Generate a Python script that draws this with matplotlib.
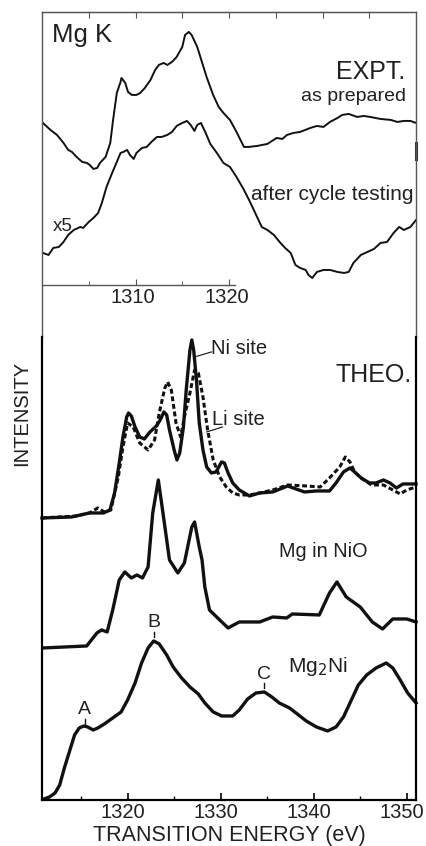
import numpy as np
import matplotlib
matplotlib.use("Agg")
from matplotlib import pyplot as plt
from matplotlib.ticker import FixedLocator, NullFormatter
from matplotlib.transforms import ScaledTranslation

plt.rcParams['font.family'] = ['Liberation Sans', 'DejaVu Sans']

# ---- experiment (top panel), intensity in arb. units ----
e_prep = [1300.1, 1300.9, 1301.6, 1302.3, 1302.8, 1303.2, 1303.7, 1304.3, 1304.8, 1305.1,
          1305.5, 1305.9, 1306.2, 1306.8, 1307.3, 1307.6, 1308.0, 1308.4, 1308.5, 1308.9,
          1309.2, 1309.6, 1310.1, 1310.5, 1311.0, 1311.6, 1312.1, 1312.5, 1313.0, 1313.4,
          1313.9, 1314.4, 1315.0, 1315.3, 1315.7, 1316.0, 1316.6, 1317.1, 1317.6, 1318.3,
          1318.9, 1319.4, 1320.1, 1320.8, 1321.6, 1322.1, 1323.0, 1324.1, 1325.1, 1325.7,
          1326.2, 1326.9, 1327.6, 1328.7, 1329.4, 1330.1, 1330.8, 1331.6, 1332.1, 1332.8,
          1333.7, 1334.4, 1335.1, 1336.2, 1337.3, 1338.0, 1338.7, 1339.4, 1340.0]
i_prep = [162, 155, 150, 142, 135, 133, 128, 123, 122, 120,
          116, 117, 122, 128, 142, 165, 192, 203, 207, 202,
          193, 190, 190, 192, 197, 205, 215, 220, 222, 220,
          223, 228, 238, 250, 253, 250, 238, 223, 208, 190,
          178, 172, 165, 153, 138, 138, 139, 141, 147, 146,
          150, 152, 153, 157, 159, 158, 163, 167, 170, 171,
          168, 169, 168, 166, 165, 163, 164, 164, 162]

e_cyc = [1300.1, 1300.7, 1301.2, 1301.8, 1302.3, 1302.8, 1303.4, 1304.1, 1304.4, 1305.0,
         1305.5, 1306.0, 1306.4, 1306.9, 1307.5, 1308.0, 1308.4, 1308.7, 1309.1, 1309.4,
         1309.8, 1310.1, 1310.7, 1311.2, 1311.7, 1312.3, 1312.8, 1313.4, 1313.9, 1314.4,
         1315.0, 1315.5, 1315.9, 1316.3, 1316.6, 1317.0, 1317.5, 1318.0, 1318.7, 1319.4,
         1320.1, 1320.8, 1321.6, 1322.3, 1323.0, 1323.5, 1324.1, 1324.8, 1325.5, 1326.0,
         1326.6, 1327.1, 1327.6, 1328.2, 1328.5, 1328.9, 1329.4, 1330.1, 1330.8, 1331.6,
         1332.3, 1332.8, 1333.3, 1334.1, 1334.8, 1335.5, 1336.2, 1336.9, 1337.6, 1338.2,
         1338.7, 1339.4, 1340.0]
i_cyc = [32, 30, 37, 38, 43, 50, 55, 58, 57, 63,
         67, 72, 82, 98, 112, 123, 132, 133, 135, 130,
         126, 132, 137, 138, 143, 148, 148, 150, 153, 159,
         162, 164, 160, 154, 160, 162, 152, 141, 132, 122,
         118, 108, 95, 82, 68, 58, 55, 50, 42, 37,
         32, 20, 17, 15, 10, 7, 13, 15, 15, 13,
         12, 13, 22, 30, 33, 36, 42, 43, 52, 58,
         55, 58, 65]

# ---- theory (bottom panel), each spectrum from its own baseline ----
e_ni = [1310.8, 1314.0, 1315.9, 1317.4, 1318.1, 1318.6, 1319.1, 1319.5, 1319.9, 1320.1,
        1320.4, 1320.8, 1321.3, 1321.8, 1322.4, 1323.1, 1323.5, 1323.9, 1324.2, 1324.5,
        1325.0, 1325.3, 1325.6, 1326.0, 1326.3, 1326.7, 1326.9, 1327.1, 1327.4, 1327.7,
        1328.1, 1328.5, 1329.0, 1329.5, 1330.1, 1330.4, 1330.8, 1331.3, 1332.0, 1333.1,
        1334.2, 1335.6, 1337.2, 1338.1, 1339.0, 1340.3, 1341.7, 1342.4, 1343.2, 1343.9,
        1344.4, 1345.1, 1346.0, 1346.7, 1347.5, 1348.2, 1348.9, 1349.6, 1350.3, 1351.0]
i_ni = [0, 1, 5, 5, 8, 25, 55, 81, 101, 105,
        102, 91, 81, 79, 86, 92, 98, 106, 103, 88,
        68, 58, 65, 91, 128, 168, 178, 168, 138, 95,
        68, 51, 45, 46, 56, 55, 45, 35, 28, 22,
        25, 26, 32, 29, 26, 27, 27, 35, 46, 50,
        46, 40, 35, 35, 38, 35, 30, 34, 34, 34]

e_li = [1310.8, 1314.5, 1315.9, 1316.8, 1317.5, 1318.2, 1319.0, 1319.5, 1320.0, 1320.6,
        1321.3, 1322.2, 1322.9, 1323.4, 1324.0, 1324.3, 1324.7, 1325.2, 1325.7, 1326.1,
        1326.7, 1327.2, 1327.6, 1328.1, 1328.6, 1329.2, 1329.9, 1330.6, 1331.3, 1332.0,
        1333.1, 1334.2, 1335.6, 1337.2, 1339.2, 1340.7, 1341.7, 1342.8, 1343.4, 1343.9,
        1344.4, 1345.1, 1346.2, 1347.5, 1348.5, 1349.3, 1350.0, 1351.0]
i_li = [0, 2, 5, 10, 6, 8, 41, 71, 95, 91,
        75, 68, 78, 105, 130, 136, 128, 95, 81, 101,
        125, 148, 145, 121, 88, 58, 41, 31, 25, 23,
        23, 25, 28, 33, 32, 31, 40, 51, 61, 56,
        46, 40, 33, 33, 28, 24, 28, 31]

e_nio = [1310.9, 1315.6, 1316.7, 1317.2, 1317.8, 1318.4, 1319.1, 1319.7, 1320.4, 1321.0,
         1321.6, 1322.2, 1322.7, 1323.3, 1323.8, 1324.5, 1325.4, 1326.1, 1326.9, 1327.2,
         1327.7, 1328.0, 1328.3, 1328.8, 1329.9, 1330.8, 1332.0, 1334.2, 1335.6, 1337.1,
         1337.7, 1340.6, 1341.7, 1342.5, 1343.5, 1345.0, 1346.3, 1347.4, 1348.5, 1350.0,
         1351.0]
i_nio = [0, 2, 15, 18, 16, 38, 68, 76, 70, 73,
         70, 81, 135, 168, 135, 88, 75, 85, 121, 126,
         101, 88, 61, 38, 28, 20, 26, 26, 31, 30,
         34, 33, 55, 66, 51, 41, 26, 19, 29, 29,
         26]

e_mg2ni = [1311.0, 1311.6, 1312.2, 1312.7, 1313.2, 1313.8, 1314.3, 1314.8, 1315.3, 1315.7,
           1316.3, 1316.8, 1317.5, 1318.4, 1319.3, 1320.0, 1320.8, 1321.5, 1322.2, 1322.8,
           1323.4, 1324.2, 1324.9, 1325.8, 1326.7, 1327.6, 1328.3, 1329.2, 1330.1, 1331.3,
           1332.0, 1332.9, 1333.8, 1334.7, 1335.5, 1336.3, 1337.4, 1338.1, 1339.2, 1340.3,
           1341.5, 1342.4, 1343.2, 1343.9, 1344.8, 1345.7, 1346.7, 1347.8, 1348.5, 1349.3,
           1350.1, 1351.0]
i_mg2ni = [1, 3, 7, 15, 32, 50, 65, 72, 74, 73,
           70, 72, 76, 82, 88, 100, 117, 137, 152, 159,
           156, 145, 133, 122, 113, 106, 97, 88, 84, 84,
           90, 101, 107, 108, 103, 97, 92, 87, 79, 73,
           69, 73, 83, 97, 115, 125, 132, 137, 132, 120,
           107, 97]

offset_site = 282
offset_nio = 152

ink = '#111111'
txt = '#231f20'
grey = '#555555'

fig = plt.figure(figsize=(4.27, 8.46), dpi=100)

# top panel
ax1 = fig.add_axes([0.0984, 0.6017, 0.8759, 0.3842])
ax1.plot(e_prep, i_prep, color=ink, lw=1.4)
ax1.plot(e_cyc, i_cyc, color=ink, lw=1.4)
ax1.set_xlim(1300, 1340)
ax1.set_ylim(-52, 273)
for s in ['left', 'right', 'top', 'bottom']:
    ax1.spines[s].set_color(grey)
    ax1.spines[s].set_linewidth(1.0)
ax1.spines['bottom'].set_position(('data', 0))
ax1.spines['bottom'].set_bounds(1300, 1320.6)
ax1.xaxis.set_major_locator(FixedLocator([1310, 1320]))
ax1.xaxis.set_minor_locator(FixedLocator([1305, 1315]))
ax1.tick_params(axis='x', which='both', direction='in', color=grey, labelsize=14.5,
                labelcolor=txt, pad=2)
ax1.tick_params(axis='x', which='major', length=4)
ax1.tick_params(axis='x', which='minor', length=3)
ax1.set_yticks([])
top = ax1.secondary_xaxis('top')
top.set_xticks([1305, 1310, 1315, 1320, 1325, 1330, 1335])
top.xaxis.set_major_formatter(NullFormatter())
top.tick_params(direction='in', length=4, color=grey)
top.spines['top'].set_color(grey)
ax1.plot([1340, 1340], [126, 142], color='#333333', lw=2.2, clip_on=False)

ax1.text(1301.1, 250, 'Mg K', fontsize=18.5, color=txt, va='center', ha='left')
ax1.text(1338.9, 213, 'EXPT.', fontsize=18, color=txt, va='center', ha='right')
ax1.text(1338.9, 188, 'as prepared', fontsize=14, color=txt, va='center', ha='right')
ax1.text(1339.7, 90, 'after cycle testing', fontsize=15, color=txt, va='center', ha='right')
ax1.text(1301.1, 58, 'x5', fontsize=13.5, color=txt, va='center', ha='left')

# bottom panel
ax2 = fig.add_axes([0.0984, 0.0544, 0.8759, 0.5473])
ax2.plot(e_li, np.array(i_li) + offset_site, color=ink, lw=2.2, linestyle=(0, (1.6, 0.9)),
         clip_on=False)
ax2.plot(e_ni, np.array(i_ni) + offset_site, color=ink, lw=2.4, clip_on=False)
ax2.plot(e_nio, np.array(i_nio) + offset_nio, color=ink, lw=2.4, clip_on=False)
ax2.plot(e_mg2ni, i_mg2ni, color=ink, lw=2.4, clip_on=False)
ax2.set_xlim(1310.8, 1351)
ax2.set_ylim(0, 463)
ax2.patch.set_alpha(0)
ax2.spines['top'].set_visible(False)
for s in ['left', 'right', 'bottom']:
    ax2.spines[s].set_color('black')
    ax2.spines[s].set_linewidth(1.6)
ax2.set_yticks([])
ax2.xaxis.set_major_locator(FixedLocator([1320, 1330, 1340, 1350]))
ax2.xaxis.set_minor_locator(FixedLocator([1315, 1325, 1335, 1345]))
ax2.tick_params(axis='x', which='both', direction='in', labelsize=14.5, labelcolor=txt, pad=2)
ax2.tick_params(axis='x', which='major', length=5, width=1.2)
ax2.tick_params(axis='x', which='minor', length=3, width=1.0)
ax2.set_xlabel('TRANSITION ENERGY (eV)', fontsize=15.5, color=txt, labelpad=2)

# the printed tick numbers sit slightly left of their ticks
for lab in ax2.get_xticklabels():
    lab.set_transform(lab.get_transform() + ScaledTranslation(-0.05, 0, fig.dpi_scale_trans))
for lab in ax1.get_xticklabels():
    lab.set_transform(lab.get_transform() + ScaledTranslation(-0.025, 0, fig.dpi_scale_trans))

ax2.text(1350.5, 425, 'THEO.', fontsize=18, color=txt, va='center', ha='right')
ax2.text(1329.0, 451, 'Ni site', fontsize=14.5, color=txt, va='center', ha='left')
ax2.plot([1327.2, 1329.0], [443, 448], color=ink, lw=0.8)
ax2.text(1329.1, 380, 'Li site', fontsize=14.5, color=txt, va='center', ha='left')
ax2.plot([1328.5, 1330.2], [368, 373], color=ink, lw=0.8)
ax2.text(1336.3, 248, 'Mg in NiO', fontsize=14.3, color=txt, va='center', ha='left')
ax2.text(1337.2, 133, 'Mg$_2$Ni', fontsize=15, color=txt, va='center', ha='left')

for lab, xe, ye, yt in [('A', 1315.4, 90, 76), ('B', 1322.8, 177, 163), ('C', 1334.7, 125, 112)]:
    ax2.text(xe, ye, lab, fontsize=14, color=txt, va='center', ha='center')
    ax2.plot([xe, xe], [yt, yt + 5], color=ink, lw=1.0)

fig.text(22 / 427, 1 - 413 / 846, 'INTENSITY', rotation=90, fontsize=14.5, color=txt,
         va='center', ha='center')

fig.savefig('out.png', dpi=100)
